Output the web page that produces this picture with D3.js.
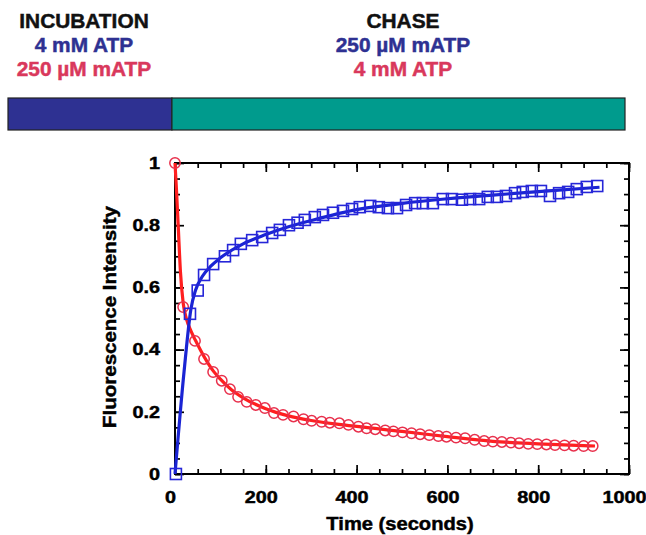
<!DOCTYPE html>
<html>
<head>
<meta charset="utf-8">
<script src="https://cdn.jsdelivr.net/npm/d3@7"></script>
<style>
  body { margin: 0; background: #fff; }
  svg { display: block; font-family: "Liberation Sans", Arial, sans-serif; font-weight: bold; }
</style>
</head>
<body>
<svg id="chart" width="646" height="535"></svg>
<script>
// header texts for the two phases
var phaseLabels = ["INCUBATION", "CHASE"];
var phaseBlue = ["4 mM ATP", "250 \u00b5M mATP"];
var phaseRed = ["250 \u00b5M mATP", "4 mM ATP"];
// phase bar: incubation ends where the chase starts (time 0 on the plot)
var phaseBar = [{ name: "incubation", from: -360, to: 0 }, { name: "chase", from: 0, to: 995 }];

var xTicks = [0, 200, 400, 600, 800, 1000];
var yTicks = [0, 0.2, 0.4, 0.6, 0.8, 1];

// blue squares: mATP binding during chase
var blueT = [2, 33, 50, 64, 84, 110, 128, 145, 170, 192, 214, 231, 251, 270, 286, 308, 326, 348, 370, 390, 407, 430, 449, 469, 489, 509, 529, 546, 568, 590, 610, 632, 650, 670, 689, 709, 729, 749, 766, 786, 806, 826, 846, 866, 885, 907, 930];
var blueY = [0, 0.515, 0.59, 0.64, 0.675, 0.70, 0.72, 0.74, 0.752, 0.762, 0.775, 0.785, 0.80, 0.808, 0.817, 0.826, 0.833, 0.84, 0.846, 0.852, 0.858, 0.862, 0.858, 0.855, 0.855, 0.865, 0.871, 0.871, 0.871, 0.884, 0.884, 0.882, 0.884, 0.884, 0.891, 0.891, 0.894, 0.903, 0.907, 0.91, 0.91, 0.894, 0.903, 0.907, 0.916, 0.923, 0.926];
// red circles: mATP release during chase
var redT = [0, 18, 44, 64, 84, 103, 121, 139, 158, 178, 198, 218, 238, 261, 283, 301, 323, 341, 362, 382, 404, 422, 441, 463, 481, 501, 521, 540, 560, 580, 598, 619, 639, 660, 681, 700, 720, 740, 758, 778, 798, 818, 837, 858, 878, 900, 920];
var redY = [1, 0.537, 0.428, 0.37, 0.328, 0.30, 0.273, 0.248, 0.232, 0.222, 0.212, 0.196, 0.19, 0.185, 0.176, 0.171, 0.168, 0.165, 0.163, 0.158, 0.152, 0.147, 0.144, 0.140, 0.137, 0.134, 0.131, 0.128, 0.125, 0.122, 0.12, 0.117, 0.115, 0.11, 0.106, 0.104, 0.103, 0.101, 0.099, 0.097, 0.096, 0.095, 0.093, 0.092, 0.091, 0.090, 0.090];

// fitted curves
var blueFitT = [0, 20, 35, 45, 60, 80, 100, 150, 200, 250, 300, 400, 500, 600, 700, 800, 935];
var blueFitY = [0, 0.33, 0.53, 0.59, 0.635, 0.67, 0.695, 0.74, 0.77, 0.795, 0.815, 0.85, 0.87, 0.885, 0.897, 0.908, 0.922];
var redFitT = [0, 3, 7, 12, 18, 25, 35, 45, 65, 85, 100, 125, 150, 200, 250, 300, 400, 500, 600, 700, 800, 925];
var redFitY = [1, 0.92, 0.8, 0.65, 0.55, 0.5, 0.46, 0.43, 0.375, 0.33, 0.305, 0.27, 0.245, 0.21, 0.187, 0.172, 0.153, 0.137, 0.12, 0.105, 0.097, 0.09];

var svg = d3.select("#chart");
var margin = { left: 175, right: 17, top: 163, bottom: 61 },
    width = 646 - margin.left - margin.right,
    height = 535 - margin.top - margin.bottom;

var x = d3.scaleLinear().domain([0, 1000]).range([margin.left, margin.left + width]);
var y = d3.scaleLinear().domain([0, 1]).range([margin.top + height, margin.top]);

// widen text the way the original typeface runs, and thicken it a bit
function stretch(sel, k) {
    sel.each(function() {
        var w = this.getComputedTextLength(),
            t = d3.select(this);
        t.attr("textLength", w * k).attr("lengthAdjust", "spacingAndGlyphs")
            .attr("stroke", t.attr("fill") || "#000")
            .attr("stroke-width", 0.45);
    });
}

// header
var headerX = [84, 403];
phaseLabels.forEach(function(lbl, i) {
    var g = svg.append("g").attr("text-anchor", "middle").style("font-size", "19.5px");
    g.append("text").attr("x", headerX[i]).attr("y", 28).attr("fill", "#111").text(lbl);
    g.append("text").attr("x", headerX[i]).attr("y", 52).attr("fill", "#2e3192").text(phaseBlue[i]);
    g.append("text").attr("x", headerX[i]).attr("y", 76).attr("fill", "#d9385c").text(phaseRed[i]);
    stretch(g.selectAll("text"), 1.07);
});

// phase bar, on its own scale so the split lines up with time 0
var xb = d3.scaleLinear().domain([-360, 995]).range([8, 625]);
svg.selectAll(".phase")
    .data(phaseBar)
    .enter()
    .append("rect")
    .attr("class", "phase")
    .attr("x", function(d) { return xb(d.from); })
    .attr("y", 98)
    .attr("width", function(d) { return xb(d.to) - xb(d.from); })
    .attr("height", 32)
    .attr("fill", function(d) { return d.name === "incubation" ? "#2e3192" : "#009b8d"; })
    .attr("stroke", "#222")
    .attr("stroke-width", 1.2);

// ticks, all pointing into the frame
var minorX = d3.range(0, 1001, 50), minorY = d3.range(0, 1.001, 0.05);

function tickGroup(axis, tx, ty) {
    var g = svg.append("g").attr("transform", "translate(" + tx + "," + ty + ")").call(axis);
    g.select(".domain").remove();
    g.selectAll(".tick line").attr("stroke", "#000").attr("stroke-width", 1.7);
    return g;
}

tickGroup(d3.axisBottom(x).tickValues(minorX).tickSize(-5).tickFormat(""), 0, y(0));
tickGroup(d3.axisTop(x).tickValues(minorX).tickSize(-5).tickFormat(""), 0, y(1));
tickGroup(d3.axisLeft(y).tickValues(minorY).tickSize(-5).tickFormat(""), x(0), 0);
tickGroup(d3.axisRight(y).tickValues(minorY).tickSize(-5).tickFormat(""), x(1000), 0);
tickGroup(d3.axisTop(x).tickValues(xTicks).tickSize(-9).tickFormat(""), 0, y(1));
tickGroup(d3.axisRight(y).tickValues(yTicks).tickSize(-9).tickFormat(""), x(1000), 0);

var xAxis = tickGroup(d3.axisBottom(x).tickValues(xTicks).tickSize(-9).tickPadding(17.5).tickFormat(d3.format("d")), 0, y(0));
xAxis.selectAll("text")
    .attr("dx", -5)
    .style("font-size", "16.5px")
    .style("font-family", "'Liberation Sans', Arial, sans-serif")
    .style("font-weight", "bold")
    .attr("fill", "#000");
stretch(xAxis.selectAll("text"), 1.2);

var yAxis = tickGroup(d3.axisLeft(y).tickValues(yTicks).tickSize(-9).tickPadding(15).tickFormat(function(d) { return d === 0 || d === 1 ? d : d3.format(".1f")(d); }), x(0), 0);
yAxis.selectAll("text")
    .style("font-size", "16.5px")
    .style("font-family", "'Liberation Sans', Arial, sans-serif")
    .style("font-weight", "bold")
    .attr("fill", "#000");
stretch(yAxis.selectAll("text"), 1.2);

// frame
svg.append("rect")
    .attr("x", x(0)).attr("y", y(1))
    .attr("width", x(1000) - x(0)).attr("height", y(0) - y(1))
    .attr("fill", "none").attr("stroke", "#000").attr("stroke-width", 2);

// axis titles
var xt = svg.append("text")
    .attr("x", 400).attr("y", 530)
    .attr("text-anchor", "middle")
    .attr("fill", "#000")
    .style("font-size", "17.5px")
    .text("Time (seconds)");
stretch(xt, 1.15);

var yt = svg.append("text")
    .attr("transform", "translate(116," + 317 + ") rotate(-90)")
    .attr("text-anchor", "middle")
    .attr("fill", "#000")
    .style("font-size", "17.5px")
    .text("Fluorescence Intensity");
stretch(yt, 1.17);

// fitted lines
var line = d3.line()
    .x(function(d) { return x(d[0]); })
    .y(function(d) { return y(d[1]); })
    .curve(d3.curveMonotoneX);

var redFit = d3.zip(redFitT, redFitY), blueFit = d3.zip(blueFitT, blueFitY);

svg.append("path").datum(redFit)
    .attr("d", line).attr("fill", "none")
    .attr("stroke", "#ff1f1f").attr("stroke-width", 3.2);

svg.append("path").datum(blueFit)
    .attr("d", line).attr("fill", "none")
    .attr("stroke", "#1a24d4").attr("stroke-width", 3.2);

// data markers
svg.selectAll(".redPt")
    .data(d3.zip(redT, redY))
    .enter()
    .append("circle")
    .attr("class", "redPt")
    .attr("cx", function(d) { return x(d[0]); })
    .attr("cy", function(d) { return y(d[1]); })
    .attr("r", 5.2)
    .attr("fill", "none")
    .attr("stroke", "#e8304c")
    .attr("stroke-width", 1.5);

svg.selectAll(".bluePt")
    .data(d3.zip(blueT, blueY))
    .enter()
    .append("rect")
    .attr("class", "bluePt")
    .attr("x", function(d) { return x(d[0]) - 5.5; })
    .attr("y", function(d) { return y(d[1]) - 5.5; })
    .attr("width", 11)
    .attr("height", 11)
    .attr("fill", "none")
    .attr("stroke", "#2626d8")
    .attr("stroke-width", 1.6);
</script>
</body>
</html>
